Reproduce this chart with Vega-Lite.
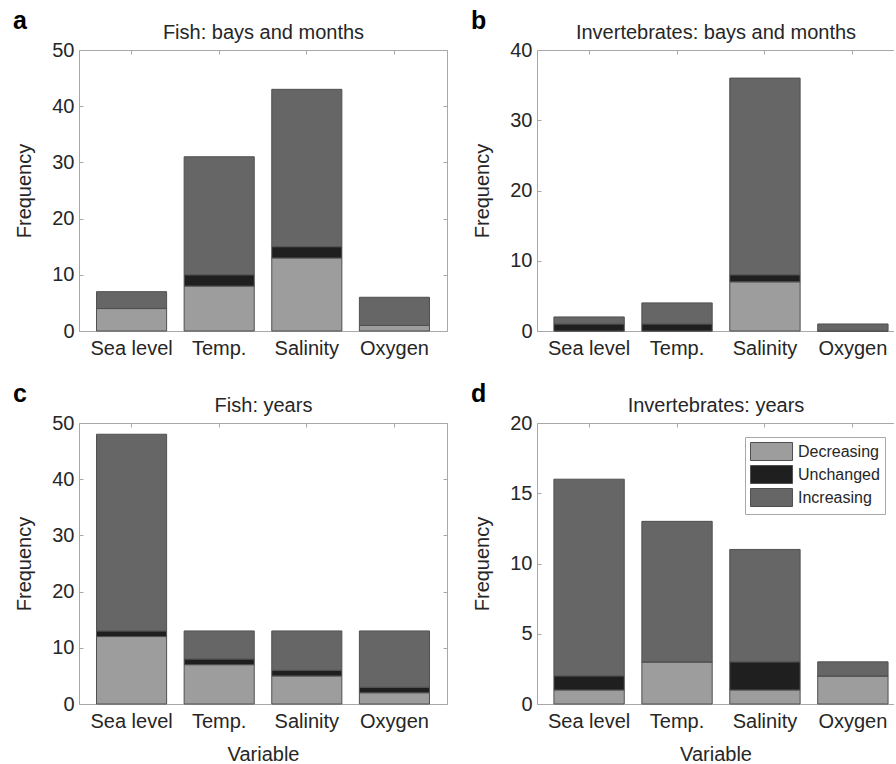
{
  "$schema": "https://vega.github.io/schema/vega-lite/v6.json",
  "background": "white",
  "padding": {"left": 13, "top": 8, "right": 0, "bottom": 0},
  "config": {
    "font": "Liberation Sans",
    "view": {"stroke": null},
    "axis": {
      "domainColor": "#a8a8a8", "domainWidth": 1, "tickColor": "#a8a8a8", "tickSize": -4, "tickWidth": 1,
      "labelColor": "#262626", "titleColor": "#262626", "labelFontSize": 20, "titleFontSize": 20,
      "titleFontWeight": "normal", "labelFont": "Liberation Sans", "titleFont": "Liberation Sans", "grid": false
    },
    "title": {"fontSize": 25, "fontWeight": "bold", "anchor": "start", "frame": "group", "color": "#000000", "font": "Liberation Sans"}
  },
  "datasets": {
    "counts": [
      {"panel": "a", "Variable": "Sea level", "Trend": "Decreasing", "Frequency": 4},
      {"panel": "a", "Variable": "Sea level", "Trend": "Unchanged", "Frequency": 0},
      {"panel": "a", "Variable": "Sea level", "Trend": "Increasing", "Frequency": 3},
      {"panel": "a", "Variable": "Temp.", "Trend": "Decreasing", "Frequency": 8},
      {"panel": "a", "Variable": "Temp.", "Trend": "Unchanged", "Frequency": 2},
      {"panel": "a", "Variable": "Temp.", "Trend": "Increasing", "Frequency": 21},
      {"panel": "a", "Variable": "Salinity", "Trend": "Decreasing", "Frequency": 13},
      {"panel": "a", "Variable": "Salinity", "Trend": "Unchanged", "Frequency": 2},
      {"panel": "a", "Variable": "Salinity", "Trend": "Increasing", "Frequency": 28},
      {"panel": "a", "Variable": "Oxygen", "Trend": "Decreasing", "Frequency": 1},
      {"panel": "a", "Variable": "Oxygen", "Trend": "Unchanged", "Frequency": 0},
      {"panel": "a", "Variable": "Oxygen", "Trend": "Increasing", "Frequency": 5},
      {"panel": "b", "Variable": "Sea level", "Trend": "Decreasing", "Frequency": 0},
      {"panel": "b", "Variable": "Sea level", "Trend": "Unchanged", "Frequency": 1},
      {"panel": "b", "Variable": "Sea level", "Trend": "Increasing", "Frequency": 1},
      {"panel": "b", "Variable": "Temp.", "Trend": "Decreasing", "Frequency": 0},
      {"panel": "b", "Variable": "Temp.", "Trend": "Unchanged", "Frequency": 1},
      {"panel": "b", "Variable": "Temp.", "Trend": "Increasing", "Frequency": 3},
      {"panel": "b", "Variable": "Salinity", "Trend": "Decreasing", "Frequency": 7},
      {"panel": "b", "Variable": "Salinity", "Trend": "Unchanged", "Frequency": 1},
      {"panel": "b", "Variable": "Salinity", "Trend": "Increasing", "Frequency": 28},
      {"panel": "b", "Variable": "Oxygen", "Trend": "Decreasing", "Frequency": 0},
      {"panel": "b", "Variable": "Oxygen", "Trend": "Unchanged", "Frequency": 0},
      {"panel": "b", "Variable": "Oxygen", "Trend": "Increasing", "Frequency": 1},
      {"panel": "c", "Variable": "Sea level", "Trend": "Decreasing", "Frequency": 12},
      {"panel": "c", "Variable": "Sea level", "Trend": "Unchanged", "Frequency": 1},
      {"panel": "c", "Variable": "Sea level", "Trend": "Increasing", "Frequency": 35},
      {"panel": "c", "Variable": "Temp.", "Trend": "Decreasing", "Frequency": 7},
      {"panel": "c", "Variable": "Temp.", "Trend": "Unchanged", "Frequency": 1},
      {"panel": "c", "Variable": "Temp.", "Trend": "Increasing", "Frequency": 5},
      {"panel": "c", "Variable": "Salinity", "Trend": "Decreasing", "Frequency": 5},
      {"panel": "c", "Variable": "Salinity", "Trend": "Unchanged", "Frequency": 1},
      {"panel": "c", "Variable": "Salinity", "Trend": "Increasing", "Frequency": 7},
      {"panel": "c", "Variable": "Oxygen", "Trend": "Decreasing", "Frequency": 2},
      {"panel": "c", "Variable": "Oxygen", "Trend": "Unchanged", "Frequency": 1},
      {"panel": "c", "Variable": "Oxygen", "Trend": "Increasing", "Frequency": 10},
      {"panel": "d", "Variable": "Sea level", "Trend": "Decreasing", "Frequency": 1},
      {"panel": "d", "Variable": "Sea level", "Trend": "Unchanged", "Frequency": 1},
      {"panel": "d", "Variable": "Sea level", "Trend": "Increasing", "Frequency": 14},
      {"panel": "d", "Variable": "Temp.", "Trend": "Decreasing", "Frequency": 3},
      {"panel": "d", "Variable": "Temp.", "Trend": "Unchanged", "Frequency": 0},
      {"panel": "d", "Variable": "Temp.", "Trend": "Increasing", "Frequency": 10},
      {"panel": "d", "Variable": "Salinity", "Trend": "Decreasing", "Frequency": 1},
      {"panel": "d", "Variable": "Salinity", "Trend": "Unchanged", "Frequency": 2},
      {"panel": "d", "Variable": "Salinity", "Trend": "Increasing", "Frequency": 8},
      {"panel": "d", "Variable": "Oxygen", "Trend": "Decreasing", "Frequency": 2},
      {"panel": "d", "Variable": "Oxygen", "Trend": "Unchanged", "Frequency": 0},
      {"panel": "d", "Variable": "Oxygen", "Trend": "Increasing", "Frequency": 1}
    ]
  },
  "columns": 2,
  "spacing": {"row": 23, "column": 23},
  "resolve": {"scale": {"color": "independent"}, "legend": {"color": "independent"}},
  "concat": [
    {
      "title": {"text": "a", "dx": -66, "offset": -11},
      "width": 368, "height": 281,
      "data": {"name": "counts"},
      "transform": [{"filter": "datum.panel === 'a'"}, {"calculate": "indexof(['Decreasing','Unchanged','Increasing'], datum.Trend)", "as": "rank"}],
      "layer": [
        {
          "mark": {"type": "bar", "stroke": "#505050", "strokeWidth": 1},
          "encoding": {
            "x": {"field": "Variable", "type": "nominal", "sort": ["Sea level", "Temp.", "Salinity", "Oxygen"], "scale": {"paddingInner": 0.2, "paddingOuter": 0.2}, "axis": {"orient": "bottom", "title": null, "labelAngle": 0, "labelPadding": 11}},
            "y": {"field": "Frequency", "type": "quantitative", "scale": {"domain": [0, 50], "nice": false}, "axis": {"orient": "left", "values": [0, 10, 20, 30, 40, 50], "title": "Frequency", "labelPadding": 9, "titlePadding": 17}},
            "color": {"field": "Trend", "type": "nominal", "scale": {"domain": ["Decreasing", "Unchanged", "Increasing"], "range": ["#9d9d9d", "#1f1f1f", "#666666"]}, "legend": null},
            "order": {"field": "rank", "type": "quantitative", "sort": "ascending"}
          }
        },
        {
          "mark": {"type": "tick", "opacity": 0},
          "encoding": {
            "x": {"field": "Variable", "type": "nominal", "sort": ["Sea level", "Temp.", "Salinity", "Oxygen"], "axis": {"orient": "top", "labels": false, "title": "Fish: bays and months", "titlePadding": 7}},
            "y": {"field": "Frequency", "type": "quantitative", "axis": {"orient": "right", "labels": false, "title": null, "values": [0, 10, 20, 30, 40, 50]}}
          }
        }
      ],
      "resolve": {"axis": {"x": "independent", "y": "independent"}}
    },
    {
      "title": {"text": "b", "dx": -66, "offset": -11},
      "width": 357, "height": 281,
      "data": {"name": "counts"},
      "transform": [{"filter": "datum.panel === 'b'"}, {"calculate": "indexof(['Decreasing','Unchanged','Increasing'], datum.Trend)", "as": "rank"}],
      "layer": [
        {
          "mark": {"type": "bar", "stroke": "#505050", "strokeWidth": 1},
          "encoding": {
            "x": {"field": "Variable", "type": "nominal", "sort": ["Sea level", "Temp.", "Salinity", "Oxygen"], "scale": {"paddingInner": 0.2, "paddingOuter": 0.13, "align": 0.74}, "axis": {"orient": "bottom", "title": null, "labelAngle": 0, "labelPadding": 11}},
            "y": {"field": "Frequency", "type": "quantitative", "scale": {"domain": [0, 40], "nice": false}, "axis": {"orient": "left", "values": [0, 10, 20, 30, 40], "title": "Frequency", "labelPadding": 9, "titlePadding": 17}},
            "color": {"field": "Trend", "type": "nominal", "scale": {"domain": ["Decreasing", "Unchanged", "Increasing"], "range": ["#9d9d9d", "#1f1f1f", "#666666"]}, "legend": null},
            "order": {"field": "rank", "type": "quantitative", "sort": "ascending"}
          }
        },
        {
          "mark": {"type": "tick", "opacity": 0},
          "encoding": {
            "x": {"field": "Variable", "type": "nominal", "sort": ["Sea level", "Temp.", "Salinity", "Oxygen"], "axis": {"orient": "top", "labels": false, "title": "Invertebrates: bays and months", "titlePadding": 7}}
          }
        }
      ],
      "resolve": {"axis": {"x": "independent"}}
    },
    {
      "title": {"text": "c", "dx": -66, "offset": -11},
      "width": 368, "height": 281,
      "data": {"name": "counts"},
      "transform": [{"filter": "datum.panel === 'c'"}, {"calculate": "indexof(['Decreasing','Unchanged','Increasing'], datum.Trend)", "as": "rank"}],
      "layer": [
        {
          "mark": {"type": "bar", "stroke": "#505050", "strokeWidth": 1},
          "encoding": {
            "x": {"field": "Variable", "type": "nominal", "sort": ["Sea level", "Temp.", "Salinity", "Oxygen"], "scale": {"paddingInner": 0.2, "paddingOuter": 0.2}, "axis": {"orient": "bottom", "title": "Variable", "labelAngle": 0, "labelPadding": 11, "titlePadding": 13}},
            "y": {"field": "Frequency", "type": "quantitative", "scale": {"domain": [0, 50], "nice": false}, "axis": {"orient": "left", "values": [0, 10, 20, 30, 40, 50], "title": "Frequency", "labelPadding": 9, "titlePadding": 17}},
            "color": {"field": "Trend", "type": "nominal", "scale": {"domain": ["Decreasing", "Unchanged", "Increasing"], "range": ["#9d9d9d", "#1f1f1f", "#666666"]}, "legend": null},
            "order": {"field": "rank", "type": "quantitative", "sort": "ascending"}
          }
        },
        {
          "mark": {"type": "tick", "opacity": 0},
          "encoding": {
            "x": {"field": "Variable", "type": "nominal", "sort": ["Sea level", "Temp.", "Salinity", "Oxygen"], "axis": {"orient": "top", "labels": false, "title": "Fish: years", "titlePadding": 7}},
            "y": {"field": "Frequency", "type": "quantitative", "axis": {"orient": "right", "labels": false, "title": null, "values": [0, 10, 20, 30, 40, 50]}}
          }
        }
      ],
      "resolve": {"axis": {"x": "independent", "y": "independent"}}
    },
    {
      "title": {"text": "d", "dx": -66, "offset": -11},
      "width": 357, "height": 281,
      "data": {"name": "counts"},
      "transform": [{"filter": "datum.panel === 'd'"}, {"calculate": "indexof(['Decreasing','Unchanged','Increasing'], datum.Trend)", "as": "rank"}],
      "layer": [
        {
          "mark": {"type": "bar", "stroke": "#505050", "strokeWidth": 1},
          "encoding": {
            "x": {"field": "Variable", "type": "nominal", "sort": ["Sea level", "Temp.", "Salinity", "Oxygen"], "scale": {"paddingInner": 0.2, "paddingOuter": 0.13, "align": 0.74}, "axis": {"orient": "bottom", "title": "Variable", "labelAngle": 0, "labelPadding": 11, "titlePadding": 13}},
            "y": {"field": "Frequency", "type": "quantitative", "scale": {"domain": [0, 20], "nice": false}, "axis": {"orient": "left", "values": [0, 5, 10, 15, 20], "title": "Frequency", "labelPadding": 9, "titlePadding": 17}},
            "color": {"field": "Trend", "type": "nominal", "scale": {"domain": ["Decreasing", "Unchanged", "Increasing"], "range": ["#9d9d9d", "#1f1f1f", "#666666"]},
              "legend": {"title": null, "orient": "none", "legendX": 208, "legendY": 14, "strokeColor": "#a8a8a8", "fillColor": "white", "padding": 5,
                "symbolType": "M-1,-1H3.67V1H-1Z", "symbolSize": 324, "symbolStrokeColor": "#505050", "symbolStrokeWidth": 1, "symbolOpacity": 1,
                "labelFontSize": 16, "labelColor": "#262626", "labelFont": "Liberation Sans", "labelOffset": 29, "rowPadding": 0}},
            "order": {"field": "rank", "type": "quantitative", "sort": "ascending"}
          }
        },
        {
          "mark": {"type": "tick", "opacity": 0},
          "encoding": {
            "x": {"field": "Variable", "type": "nominal", "sort": ["Sea level", "Temp.", "Salinity", "Oxygen"], "axis": {"orient": "top", "labels": false, "title": "Invertebrates: years", "titlePadding": 7}}
          }
        }
      ],
      "resolve": {"axis": {"x": "independent"}}
    }
  ]
}
